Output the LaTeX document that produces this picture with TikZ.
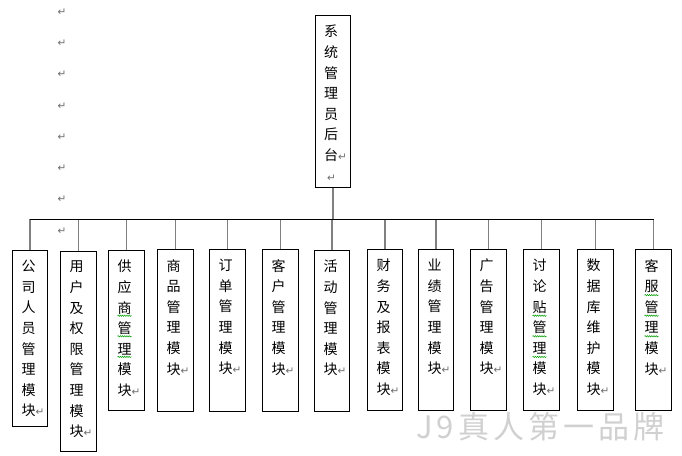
\documentclass[tikz,border=0pt]{standalone}
\usepackage{fontspec}
\setmainfont{Noto Sans CJK SC}
\newfontfamily\retfont{DejaVu Sans}
\newfontfamily\wmfont[LetterSpace=13]{Noto Sans CJK SC}
\usetikzlibrary{decorations.pathmorphing}
\definecolor{pmgray}{RGB}{110,110,110}
\definecolor{stubgray}{RGB}{128,128,128}
\definecolor{squiggreen}{RGB}{0,160,0}
\definecolor{wmgray}{RGB}{208,208,208}
\newcommand\retmark{{\retfont\fontsize{10.5}{10}\selectfont\color{pmgray}↵}}
\tikzset{
  modbox/.style={draw=black, line width=1pt, rectangle, inner sep=0pt, anchor=north west},
  txt/.style={inner sep=0pt, anchor=north west, align=left, font=\fontsize{14}{20.6}\selectfont},
  stub/.style={draw=stubgray, line width=1.7pt},
  bus/.style={draw=black, line width=1pt},
  squig/.style={draw=squiggreen, line width=0.5pt, decorate, decoration={snake, amplitude=0.7pt, segment length=2.2pt}},
  retnode/.style={inner sep=0pt, font=\retfont\fontsize{10.5}{10}\selectfont, text=pmgray},
  wm/.style={inner sep=0pt, anchor=base west, text=wmgray, font=\wmfont\fontsize{31}{31}\selectfont}
}
\begin{document}
\begin{tikzpicture}[x=1pt,y=-1pt]
\useasboundingbox (0,0) rectangle (682,455);
% top box
\node[modbox, minimum width=35pt, minimum height=172pt] (top) at (315,15) {};
\node[txt] (ttop) at (324,25) {系\\统\\管\\理\\员\\后\\台\retmark\\\hspace{3pt}\retmark};
% module boxes
\foreach \n/\l/\t/\w/\h/\s in {
  1/12/250/35/176/{公\\司\\人\\员\\管\\理\\模\\块\retmark},
  2/60/251/36/200/{用\\户\\及\\权\\限\\管\\理\\模\\块\retmark},
  3/108/250/36/160/{供\\应\\商\\管\\理\\模\\块\retmark},
  4/157/249/36/162/{商\\品\\管\\理\\模\\块\retmark},
  5/209/249/36/162/{订\\单\\管\\理\\模\\块\retmark},
  6/262/249/36/162/{客\\户\\管\\理\\模\\块\retmark},
  7/314/250/35/161/{活\\动\\管\\理\\模\\块\retmark},
  8/367/249/35/161/{财\\务\\及\\报\\表\\模\\块\retmark},
  9/418/249/35/161/{业\\绩\\管\\理\\模\\块\retmark},
  10/470/249/36/161/{广\\告\\管\\理\\模\\块\retmark},
  11/523/249/36/161/{讨\\论\\贴\\管\\理\\模\\块\retmark},
  12/577/249/36/161/{数\\据\\库\\维\\护\\模\\块\retmark},
  13/635/249/36/161/{客\\服\\管\\理\\模\\块\retmark}}{
  \node[modbox, minimum width=\w pt, minimum height=\h pt] (b\n) at (\l,\t) {};
  \node[txt] (t\n) at (\l+9.5,\t+10) {\s};
}
% connectors
\coordinate (busL) at (29.5,219);
\draw[stub] (top.south) -- (top.south |- busL);
\foreach \i in {1,...,13}{
  \draw[stub] (b\i.north) -- (b\i.north |- busL);
}
\draw[bus] (b1.north |- busL) -- (b13.north |- busL);
% green squiggles
\foreach \bx/\k in {108/3,108/4,108/5,523/3,523/4,523/5,635/2,635/3,635/4}{
  \draw[squig] (\bx+9.5,{249+17+20.6*(\k-1)+8.5}) -- (\bx+23.5,{249+17+20.6*(\k-1)+8.5});
}
% paragraph marks in the left margin
\foreach \j/\y in {1/12,2/43,3/74,4/106,5/137,6/168,7/199,8/231}{
  \node[retnode] (pm\j) at (62,\y) {↵};
}
% watermark
\node[wm] (wm) at (416,438) {J9真人第一品牌};
\end{tikzpicture}
\end{document}
